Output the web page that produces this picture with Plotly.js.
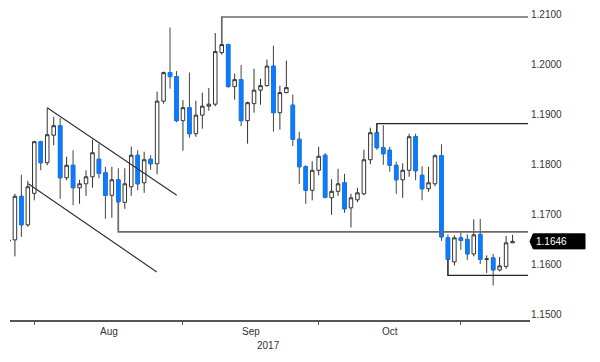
<!DOCTYPE html>
<html>
<head>
<meta charset="utf-8">
<script src="https://cdn.plot.ly/plotly-3.0.1.min.js"></script>
<style>html,body{margin:0;padding:0;background:#fff;}#chart{width:600px;height:362px;}</style>
</head>
<body>
<div id="chart"></div>
<script>
// ---- data (EUR/USD daily) ----
const dates = [
 '2017-07-26','2017-07-27','2017-07-28','2017-07-31',
 '2017-08-01','2017-08-02','2017-08-03','2017-08-04','2017-08-07','2017-08-08','2017-08-09','2017-08-10','2017-08-11',
 '2017-08-14','2017-08-15','2017-08-16','2017-08-17','2017-08-18','2017-08-21','2017-08-22','2017-08-23','2017-08-24','2017-08-25',
 '2017-08-28','2017-08-29','2017-08-30','2017-08-31',
 '2017-09-01','2017-09-04','2017-09-05','2017-09-06','2017-09-07','2017-09-08','2017-09-11','2017-09-12','2017-09-13','2017-09-14','2017-09-15',
 '2017-09-18','2017-09-19','2017-09-20','2017-09-21','2017-09-22','2017-09-25','2017-09-26','2017-09-27','2017-09-28','2017-09-29',
 '2017-10-02','2017-10-03','2017-10-04','2017-10-05','2017-10-06','2017-10-09','2017-10-10','2017-10-11','2017-10-12','2017-10-13',
 '2017-10-16','2017-10-17','2017-10-18','2017-10-19','2017-10-20','2017-10-23','2017-10-24','2017-10-25','2017-10-26','2017-10-27',
 '2017-10-30','2017-10-31',
 '2017-11-01','2017-11-02','2017-11-03','2017-11-06','2017-11-07','2017-11-08','2017-11-09','2017-11-10','2017-11-13'
];
const openP = [
 1.1646,1.1649,1.1736,1.1679,
 1.1742,1.1845,1.1803,1.1858,1.1877,1.1773,1.1798,1.1753,1.1761,
 1.1775,1.1810,1.1783,1.1738,1.1769,1.1724,1.1755,1.1818,1.1763,1.1810,
 1.1801,1.1926,1.1983,1.1975,
 1.1887,1.1913,1.1861,1.1898,1.1916,1.1920,1.2023,1.2039,1.1955,1.1969,1.1887,
 1.1921,1.1948,1.1957,1.1996,1.1903,1.1943,1.1918,1.1850,1.1795,1.1748,
 1.1788,1.1818,1.1733,1.1746,1.1763,1.1713,1.1729,1.1741,1.1809,1.1863,
 1.1833,1.1828,1.1798,1.1769,1.1788,1.1855,1.1778,1.1751,1.1761,1.1817,
 1.1653,1.1605,
 1.1653,1.1650,1.1621,1.1660,1.1610,1.1613,1.1589,1.1596,1.1643
];
const highP = [
 1.1655,1.1741,1.1779,1.1767,
 1.1847,1.1847,1.1913,1.1895,1.1892,1.1815,1.1828,1.1769,1.1788,
 1.1849,1.1841,1.1795,1.1795,1.1792,1.1792,1.1835,1.1828,1.1825,1.1818,
 1.1945,1.1985,1.2073,1.1986,
 1.1928,1.1983,1.1927,1.1943,1.1952,1.2062,1.2094,1.2041,1.1981,1.1998,1.1925,
 1.1991,1.1971,1.2009,1.2037,1.1957,1.2007,1.1939,1.1865,1.1798,1.1806,
 1.1835,1.1822,1.1770,1.1791,1.1781,1.1741,1.1753,1.1829,1.1873,1.1881,
 1.1878,1.1835,1.1805,1.1802,1.1861,1.1861,1.1796,1.1795,1.1820,1.1840,
 1.1660,1.1658,
 1.1663,1.1660,1.1690,1.1691,1.1618,1.1621,1.1615,1.1657,1.1659
];
const lowP = [
 1.1640,1.1616,1.1655,1.1675,
 1.1728,1.1788,1.1798,1.1838,1.1731,1.1768,1.1718,1.1721,1.1737,
 1.1753,1.1772,1.1691,1.1693,1.1665,1.1711,1.1737,1.1748,1.1743,1.1789,
 1.1780,1.1921,1.1951,1.1884,
 1.1827,1.1853,1.1855,1.1871,1.1907,1.1916,1.2019,1.1953,1.1929,1.1876,1.1841,
 1.1903,1.1919,1.1955,1.1865,1.1869,1.1942,1.1836,1.1761,1.1721,1.1728,
 1.1778,1.1732,1.1699,1.1737,1.1703,1.1674,1.1724,1.1738,1.1800,1.1829,
 1.1799,1.1785,1.1741,1.1733,1.1775,1.1768,1.1728,1.1745,1.1756,1.1647,
 1.1578,1.1598,
 1.1629,1.1609,1.1616,1.1601,1.1583,1.1558,1.1586,1.1591,1.1643
];
const closeP = [
 1.1649,1.1736,1.1679,1.1755,
 1.1845,1.1803,1.1859,1.1877,1.1773,1.1798,1.1753,1.1761,1.1775,
 1.1823,1.1782,1.1738,1.1769,1.1725,1.1761,1.1818,1.1761,1.1809,1.1801,
 1.1926,1.1983,1.1975,1.1887,
 1.1913,1.1861,1.1898,1.1916,1.1920,1.2025,1.2039,1.1955,1.1969,1.1887,1.1923,
 1.1948,1.1957,1.1996,1.1903,1.1943,1.1953,1.1850,1.1795,1.1748,1.1788,
 1.1816,1.1734,1.1746,1.1761,1.1711,1.1733,1.1743,1.1809,1.1863,1.1833,
 1.1821,1.1798,1.1769,1.1788,1.1855,1.1787,1.1751,1.1763,1.1817,1.1655,
 1.1610,1.1653,
 1.1648,1.1621,1.1659,1.1610,1.1611,1.1589,1.1597,1.1643,1.1646
];
const monthTicks = ['2017-08-01','2017-09-01','2017-10-02','2017-11-01'];
const monthLabels = ['Aug','Sep','Oct'];
const yearLabel = '2017';
const yTicks = [1.15,1.16,1.17,1.18,1.19,1.20,1.21];
const lastPrice = 1.1646;
// support / resistance brackets: start candle and level
const levelDates = ['2017-09-11','2017-10-13','2017-08-18','2017-10-30'];
const levelPrices = [1.2094,1.1881,1.1665,1.1578];
// channel lines (category-index, price)
const channelUpperX = [6.0, 26.04];
const channelUpperY = [1.1913, 1.1738];
const channelLowerX = [3.07, 22.95];
const channelLowerY = [1.1761, 1.1585];

// ---- styles ----
const BLUE = '#0a7cff';
const INK = '#333333';
const FONT = 'Liberation Sans, Arial, sans-serif';
const xRange = [0.24, 80.7];
const lineEnd = 80.4;

const bodyHigh = openP.map((o,i)=>Math.max(o, closeP[i]));
const bodyLow = openP.map((o,i)=>Math.min(o, closeP[i]));

const traces = [
 {type:'candlestick', x:dates, open:openP, high:highP, low:lowP, close:closeP,
  increasing:{line:{color:INK,width:1}, fillcolor:'#ffffff'},
  decreasing:{line:{color:'#444444',width:1}, fillcolor:BLUE},
  whiskerwidth:0, hoverinfo:'skip', showlegend:false},
 {type:'candlestick', x:dates, open:openP, high:bodyHigh, low:bodyLow, close:closeP,
  increasing:{line:{color:'rgba(0,0,0,0)',width:1}, fillcolor:'rgba(0,0,0,0)'},
  decreasing:{line:{color:BLUE,width:1}, fillcolor:BLUE},
  whiskerwidth:0, hoverinfo:'skip', showlegend:false}
];

const shapes = [];
levelDates.forEach((d,k)=>{
  const i = dates.indexOf(d);
  const lvl = levelPrices[k];
  const from = lvl > bodyHigh[i] ? bodyHigh[i] : bodyLow[i];
  const dark = (k===1 || k===3);
  const col = dark ? '#222222' : '#6a6a6a';
  const w = dark ? 1.2 : 1.6;
  shapes.push({type:'path', xref:'x', yref:'y',
    path:`M ${i},${from} L ${i},${lvl} L ${lineEnd},${lvl}`,
    line:{color:col,width:w}});
});
shapes.push({type:'line', xref:'x', yref:'y', x0:channelUpperX[0], y0:channelUpperY[0], x1:channelUpperX[1], y1:channelUpperY[1], line:{color:'#333',width:1.2}});
shapes.push({type:'line', xref:'x', yref:'y', x0:channelLowerX[0], y0:channelLowerY[0], x1:channelLowerX[1], y1:channelLowerY[1], line:{color:'#333',width:1.2}});
// last price tag
const hh = 0.0015;
shapes.push({type:'path', xref:'paper', yref:'y',
  path:`M 1.0,${lastPrice} L 1.0062,${lastPrice+hh} L 1.1058,${lastPrice+hh} L 1.1058,${lastPrice-hh} L 1.0062,${lastPrice-hh} Z`,
  fillcolor:'#000', line:{color:'#000',width:1}});

const annotations = [];
for (let k=0;k<monthLabels.length;k++){
  const mid = (dates.indexOf(monthTicks[k]) + dates.indexOf(monthTicks[k+1]))/2;
  annotations.push({x:mid, xref:'x', y:0, yref:'paper', yanchor:'middle', yshift:-11,
    text:monthLabels[k], showarrow:false, font:{family:FONT,size:10,color:INK}});
  if (monthLabels[k]==='Sep') {
    annotations.push({x:mid, xref:'x', y:0, yref:'paper', yanchor:'middle', yshift:-25, xshift:18,
      text:yearLabel, showarrow:false, font:{family:FONT,size:10,color:INK}});
  }
}
annotations.push({x:1, xref:'paper', xanchor:'left', xshift:4, y:lastPrice, yref:'y', yanchor:'middle',
  text:lastPrice.toFixed(4), showarrow:false, font:{family:FONT,size:10,color:'#ffffff'}});

const layout = {
  width:600, height:362,
  margin:{l:10, r:70, t:0, b:42},
  paper_bgcolor:'#fff', plot_bgcolor:'#fff',
  showlegend:false, boxgap:0.22,
  xaxis:{type:'category', range:xRange, showgrid:false, zeroline:false,
    showline:true, linecolor:'#555', linewidth:1.5,
    tickmode:'array', tickvals:monthTicks, ticktext:monthTicks.map(()=>''),
    ticks:'outside', ticklen:3, tickcolor:'#555', tickwidth:1,
    rangeslider:{visible:false}, fixedrange:true},
  yaxis:{side:'right', range:[1.1489,1.2128], showgrid:false, zeroline:false, showline:false,
    tickmode:'array', tickvals:yTicks, ticktext:yTicks.map(v=>v.toFixed(4)),
    ticks:'', tickfont:{family:FONT,size:10,color:INK}, fixedrange:true},
  shapes:shapes, annotations:annotations
};
Plotly.newPlot('chart', traces, layout, {displayModeBar:false, staticPlot:true});
</script>
</body>
</html>
